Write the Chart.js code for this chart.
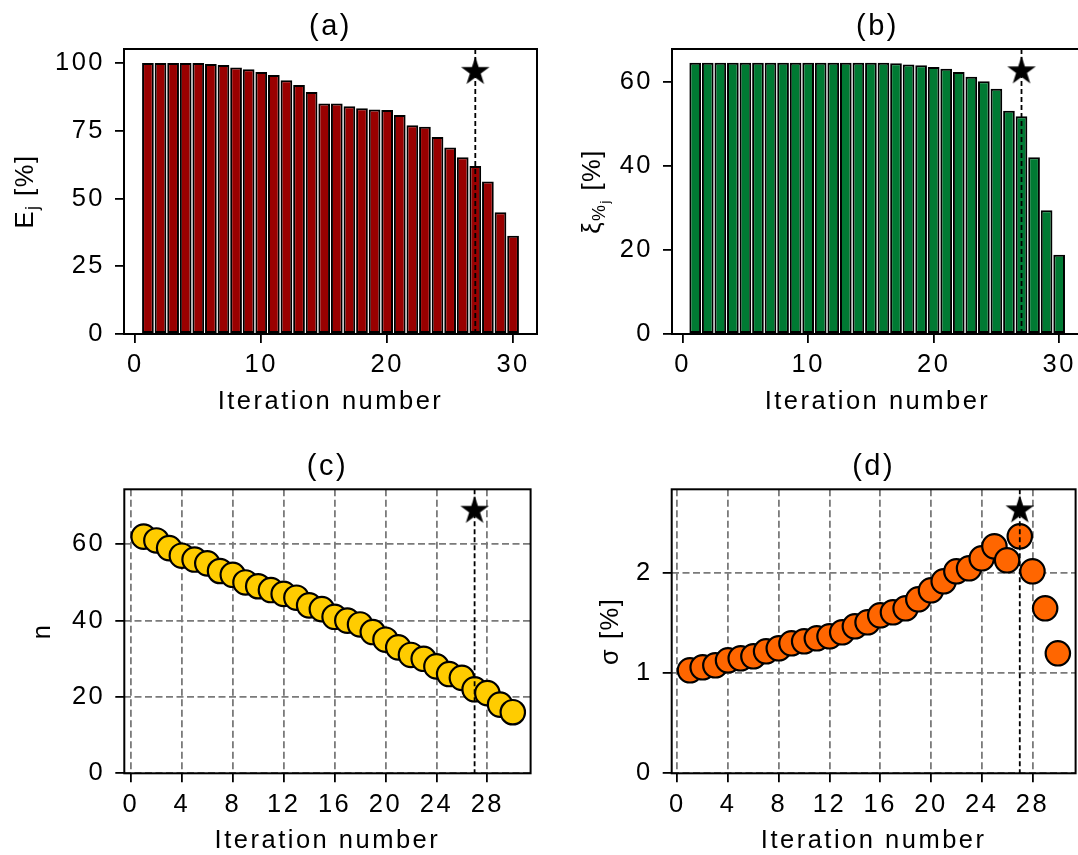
<!DOCTYPE html>
<html>
<head>
<meta charset="utf-8">
<script src="https://cdn.jsdelivr.net/npm/chart.js@4"></script>
<style>
  body { margin: 0; width: 1078px; height: 855px; overflow: hidden; background: #fff; position: relative; }
  canvas { position: absolute; }
</style>
</head>
<body>
<canvas id="chartA" width="545" height="430" style="left:0;top:0"></canvas>
<canvas id="chartB" width="545" height="430" style="left:545px;top:0"></canvas>
<canvas id="chartC" width="545" height="425" style="left:0;top:430px"></canvas>
<canvas id="chartD" width="545" height="425" style="left:545px;top:430px"></canvas>
<script>
// data
const iterations = [1,2,3,4,5,6,7,8,9,10,11,12,13,14,15,16,17,18,19,20,21,22,23,24,25,26,27,28,29,30];
const efficiency = [100,100,100,100,100,99.7,99.3,98.4,97.7,96.7,95.6,93.7,91.9,89.3,85.1,85.1,84.1,83.3,82.9,82.7,80.8,77.1,76.5,72.7,68.8,65.2,62.0,56.3,44.9,36.3];
const xiPercent = [64.6,64.6,64.6,64.6,64.6,64.6,64.6,64.6,64.6,64.6,64.6,64.6,64.6,64.6,64.6,64.6,64.5,64.2,64.0,63.6,63.2,62.4,61.3,60.2,58.4,53.2,51.9,42.1,29.5,18.9];
const nValues = [62,61,59,57,56,55,53,52,50,49,48,47,46,44,43,41,40,39,37,35,33,31,30,28,26,25,22,21,18,16];
const sigmaValues = [1.03,1.06,1.08,1.13,1.15,1.17,1.22,1.25,1.30,1.32,1.35,1.37,1.41,1.47,1.51,1.58,1.61,1.65,1.74,1.83,1.92,2.02,2.05,2.15,2.27,2.13,2.37,2.02,1.65,1.20];

const bestIteration = 27;
const starA = [96.8], starB = [62.6], starC = [68.8], starD = [2.63];

const xTicksBars = [0, 10, 20, 30];
const xTicksPoints = [0, 4, 8, 12, 16, 20, 24, 28];
const yTicksA = [0, 25, 50, 75, 100];
const yTicksB = [0, 20, 40, 60];
const yTicksC = [0, 20, 40, 60];
const yTicksD = [0, 1, 2];

const FONT = "'Liberation Sans', Arial, sans-serif";
const FS = 25.5;
const TITLE_FS = 29;
const SPACING = '2.5px';

function starImage(r) {
    const s = Math.ceil(2 * r + 2);
    const c = document.createElement('canvas');
    c.width = s; c.height = s;
    const g = c.getContext('2d');
    g.translate(s / 2, s / 2);
    g.beginPath();
    for (let i = 0; i < 10; i++) {
        const rad = i % 2 ? r * 0.382 : r;
        const a = -Math.PI / 2 + i * Math.PI / 5;
        g.lineTo(rad * Math.cos(a), rad * Math.sin(a));
    }
    g.closePath();
    g.fillStyle = '#000';
    g.fill();
    return c;
}
const STAR = starImage(15);

// frame, dashed line at best iteration, titles and labels
const decorations = {
    id: 'decorations',
    beforeDraw(chart) {
        chart.ctx.letterSpacing = SPACING;
    },
    afterDatasetDraw(chart, args) {
        if (args.index !== 0) return;
        const {ctx, chartArea: a, scales: {x}} = chart;
        const px = x.getPixelForValue(bestIteration);
        ctx.save();
        ctx.beginPath();
        ctx.setLineDash([5, 3]);
        ctx.lineWidth = 1.8;
        ctx.strokeStyle = '#000';
        ctx.moveTo(px, a.top);
        ctx.lineTo(px, a.bottom);
        ctx.stroke();
        ctx.restore();
    },
    afterDraw(chart, args, o) {
        const {ctx, chartArea: a} = chart;
        ctx.save();
        ctx.lineWidth = 2;
        ctx.strokeStyle = '#000';
        ctx.setLineDash([]);
        ctx.strokeRect(a.left, a.top, a.right - a.left, a.bottom - a.top);

        ctx.fillStyle = '#000';
        ctx.letterSpacing = SPACING;
        ctx.textBaseline = 'alphabetic';
        ctx.textAlign = 'center';
        const cx = (a.left + a.right) / 2;
        ctx.font = TITLE_FS + 'px ' + FONT;
        ctx.fillText(o.title, cx, a.top - 14);
        ctx.font = FS + 'px ' + FONT;
        ctx.fillText('Iteration number', cx, a.bottom + 75);

        // rotated y label made of pieces (for subscripts)
        ctx.textAlign = 'left';
        ctx.letterSpacing = '1.5px';
        let total = 0;
        o.ylabel.forEach(p => {
            ctx.font = (p.size || FS) + 'px ' + FONT;
            p.w = ctx.measureText(p.t).width;
            total += p.w;
        });
        ctx.translate(o.ylabelX, (a.top + a.bottom) / 2);
        ctx.rotate(-Math.PI / 2);
        let px = -total / 2;
        o.ylabel.forEach(p => {
            ctx.font = (p.size || FS) + 'px ' + FONT;
            ctx.fillText(p.t, px, p.dy || 0);
            px += p.w;
        });
        ctx.restore();
    }
};

function scaleOpts(min, max, ticks, grid, fixSize) {
    return {
        type: 'linear',
        min: min,
        max: max,
        offset: false,
        afterBuildTicks: s => { s.ticks = ticks.map(v => ({value: v})); },
        afterFit: fixSize,
        border: {display: false, dash: [7, 3.5]},
        grid: {
            display: true,
            offset: false,
            drawOnChartArea: grid,
            color: '#7a7a7a',
            lineWidth: 1.8,
            tickColor: '#000',
            tickWidth: 1.8,
            tickLength: 9
        },
        ticks: {
            color: '#000',
            font: {family: FONT, size: FS},
            maxRotation: 0,
            autoSkip: false
        }
    };
}

function makePanel(id, o) {
    const canvas = document.getElementById(id);
    const W = canvas.width, H = canvas.height;
    const xs = scaleOpts(o.xMin, o.xMax, o.xTicks, o.grid, s => { s.height = H - o.area.bottom; });
    xs.ticks.padding = 7;
    const ys = scaleOpts(0, o.yMax, o.yTicks, o.grid, s => { s.width = o.area.left; });
    ys.ticks.padding = 10;

    const main = o.bars ? {
        type: 'bar',
        data: o.values.map((v, i) => ({x: iterations[i], y: v})),
        backgroundColor: o.color,
        borderColor: '#000',
        borderWidth: 2,
        borderSkipped: false,
        barPercentage: 0.93,
        categoryPercentage: 1,
        order: 1
    } : {
        type: 'scatter',
        data: o.values.map((v, i) => ({x: iterations[i], y: v})),
        backgroundColor: o.color,
        borderColor: '#000',
        borderWidth: 2.2,
        pointRadius: 12.2,
        order: 1
    };
    const star = {
        type: 'scatter',
        data: o.star.map(v => ({x: bestIteration, y: v})),
        pointStyle: STAR,
        order: 0
    };

    return new Chart(canvas, {
        type: o.bars ? 'bar' : 'scatter',
        data: {datasets: [main, star]},
        options: {
            responsive: false,
            animation: false,
            events: [],
            layout: {padding: {left: 0, top: o.area.top, right: W - o.area.right, bottom: 0}},
            scales: {x: xs, y: ys},
            plugins: {
                legend: {display: false},
                tooltip: {enabled: false},
                decorations: {title: o.title, ylabel: o.ylabel, ylabelX: o.ylabelX}
            }
        },
        plugins: [decorations]
    });
}

makePanel('chartA', {
    bars: true, values: efficiency, star: starA, color: '#990000',
    xMin: -0.9, xMax: 31.9, xTicks: xTicksBars, yMax: 105.2, yTicks: yTicksA, grid: false,
    area: {left: 124, right: 537, top: 49, bottom: 334},
    title: '(a)', ylabelX: 33,
    ylabel: [{t: 'E'}, {t: 'j', size: 18, dy: 5}, {t: ' [%]'}]
});

makePanel('chartB', {
    bars: true, values: xiPercent, star: starB, color: '#007a33',
    xMin: -0.85, xMax: 31.9, xTicks: xTicksBars, yMax: 67.9, yTicks: yTicksB, grid: false,
    area: {left: 127, right: 538, top: 49, bottom: 334},
    title: '(b)', ylabelX: 55,
    ylabel: [{t: 'ξ'}, {t: '%', size: 18, dy: 5}, {t: 'j', size: 13, dy: 9}, {t: ' [%]'}]
});

makePanel('chartC', {
    bars: false, values: nValues, star: starC, color: '#ffcc00',
    xMin: -0.52, xMax: 31.4, xTicks: xTicksPoints, yMax: 74.4, yTicks: yTicksC, grid: true,
    area: {left: 124.3, right: 535, top: 59.3, bottom: 343.3},
    title: '(c)', ylabelX: 50,
    ylabel: [{t: 'n'}]
});

makePanel('chartD', {
    bars: false, values: sigmaValues, star: starD, color: '#ff6600',
    xMin: -0.44, xMax: 31.4, xTicks: xTicksPoints, yMax: 2.84, yTicks: yTicksD, grid: true,
    area: {left: 126.7, right: 537.4, top: 59.3, bottom: 343.3},
    title: '(d)', ylabelX: 73,
    ylabel: [{t: 'σ [%]'}]
});
</script>
</body>
</html>
